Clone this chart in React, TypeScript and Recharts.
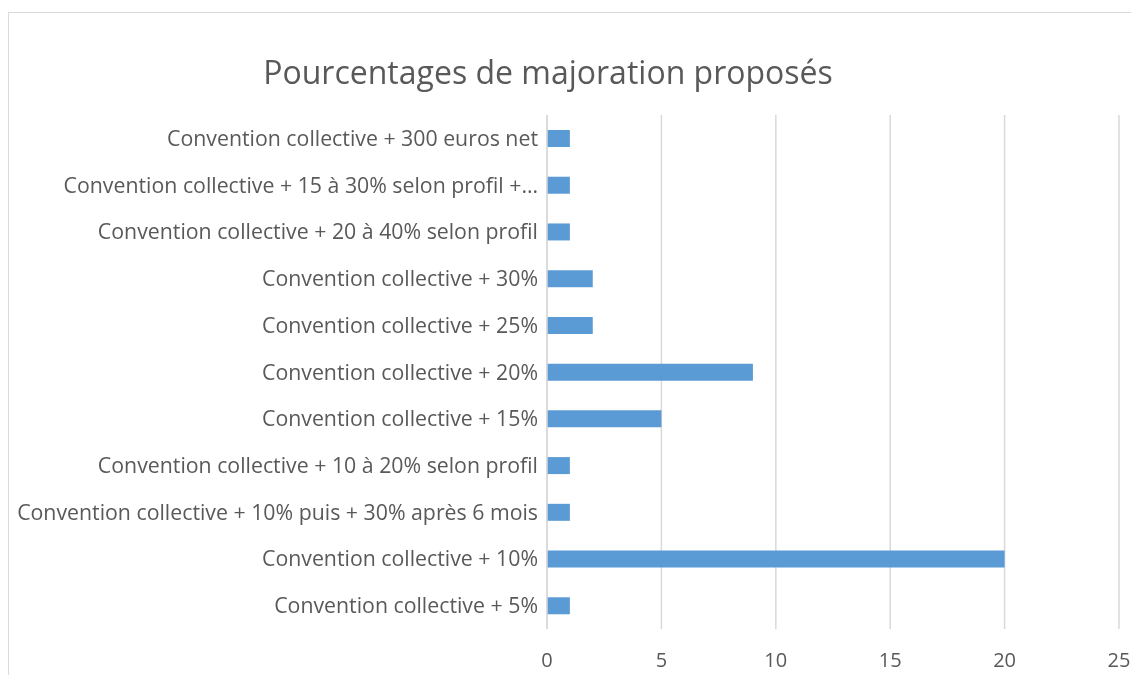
import React from "react";
import { BarChart, Bar, XAxis, YAxis, CartesianGrid } from "recharts";

const categories = [
  "Convention collective + 300 euros net",
  "Convention collective + 15 à 30% selon profil +…",
  "Convention collective + 20 à 40% selon profil",
  "Convention collective + 30%",
  "Convention collective + 25%",
  "Convention collective + 20%",
  "Convention collective + 15%",
  "Convention collective + 10 à 20% selon profil",
  "Convention collective + 10% puis + 30% après 6 mois",
  "Convention collective + 10%",
  "Convention collective + 5%",
];
const values = [1, 1, 1, 2, 2, 9, 5, 1, 1, 20, 1];
const xTicks = [0, 5, 10, 15, 20, 25];

const data = categories.map((name, i) => ({ name, value: values[i] }));

const FONT = "'Open Sans', sans-serif";
const TEXT = "#595959";
const GRID = "#D9D9D9";

export default function App() {
  return (
    <div style={{ position: "fixed", left: 8, top: 8, width: 1123, height: 667, overflow: "hidden" }}>
      <div
        style={{
          position: "absolute",
          left: 0,
          top: 4,
          width: 1140,
          height: 700,
          border: `1px solid ${GRID}`,
          boxSizing: "border-box",
        }}
      />
      <div
        style={{
          position: "absolute",
          left: 190,
          width: 700,
          top: 44,
          textAlign: "center",
          fontFamily: FONT,
          fontSize: 32,
          color: TEXT,
          lineHeight: "40px",
        }}
      >
        Pourcentages de majoration proposés
      </div>
      <div style={{ position: "absolute", left: 0, top: 0 }}>
        <BarChart
          width={1123}
          height={667}
          data={data}
          layout="vertical"
          margin={{ top: 107, right: 12, bottom: 16, left: 0 }}
        >
          <CartesianGrid horizontal={false} vertical={true} stroke={GRID} strokeWidth={1.5} />
          <XAxis
            type="number"
            domain={[0, 25]}
            ticks={xTicks}
            axisLine={false}
            tickLine={false}
            tickMargin={18}
            height={30}
            tick={{ fill: TEXT, fontSize: 20, fontFamily: FONT }}
          />
          <YAxis
            type="category"
            dataKey="name"
            width={539}
            axisLine={{ stroke: GRID, strokeWidth: 1.5 }}
            tickLine={false}
            tickMargin={3}
            interval={0}
            tick={{ fill: TEXT, fontSize: 21.3, fontFamily: FONT }}
          />
          <Bar dataKey="value" fill="#5B9BD5" barSize={17} isAnimationActive={false} />
        </BarChart>
      </div>
    </div>
  );
}
